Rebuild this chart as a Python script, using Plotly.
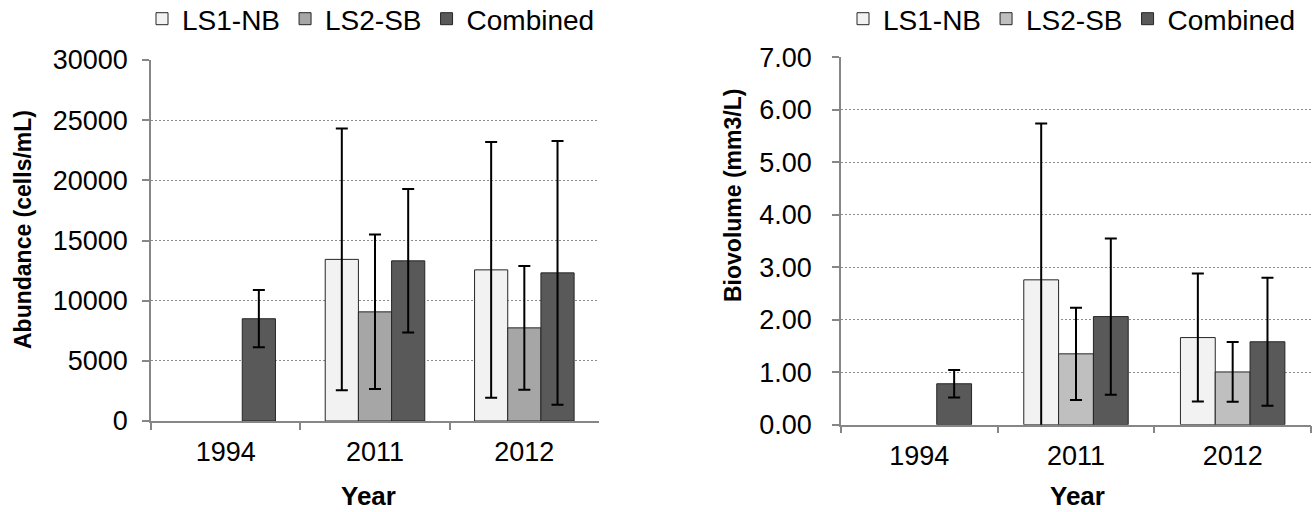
import plotly.graph_objects as go

years = ["1994", "2011", "2012"]
series_names = ["LS1-NB", "LS2-SB", "Combined"]

abund_ls1 = [None, 13430, 12560]
abund_ls1_err = [None, 10880, 10630]
abund_ls2 = [None, 9070, 7740]
abund_ls2_err = [None, 6420, 5140]
abund_comb = [8500, 13310, 12310]
abund_comb_err = [2380, 5960, 10950]

bio_ls1 = [None, 2.76, 1.66]
bio_ls1_err = [None, 2.98, 1.22]
bio_ls2 = [None, 1.35, 1.005]
bio_ls2_err = [None, 0.88, 0.57]
bio_comb = [0.78, 2.06, 1.58]
bio_comb_err = [0.26, 1.49, 1.22]

left_colors = ["#f2f2f2", "#a6a6a6", "#595959"]
right_colors = ["#f2f2f2", "#bfbfbf", "#595959"]

FONT = "Liberation Sans, Arial, sans-serif"
W, H = 1312, 512

fig = go.Figure()

left_vals = [(abund_ls1, abund_ls1_err), (abund_ls2, abund_ls2_err), (abund_comb, abund_comb_err)]
right_vals = [(bio_ls1, bio_ls1_err), (bio_ls2, bio_ls2_err), (bio_comb, bio_comb_err)]

for name, (v, e), c in zip(series_names, left_vals, left_colors):
    fig.add_trace(go.Bar(
        x=years, y=v, name=name, xaxis="x", yaxis="y", legend="legend",
        marker=dict(color=c, line=dict(color="#262626", width=1)),
        error_y=dict(type="data", array=e, visible=True, color="black", thickness=2, width=6),
    ))

for name, (v, e), c in zip(series_names, right_vals, right_colors):
    fig.add_trace(go.Bar(
        x=years, y=v, name=name, xaxis="x2", yaxis="y2", legend="legend2",
        marker=dict(color=c, line=dict(color="#262626", width=1)),
        error_y=dict(type="data", array=e, visible=True, color="black", thickness=2, width=6),
    ))

axis_col = "#868686"

def xax(domain, anchor):
    return dict(
        domain=domain, anchor=anchor, type="category",
        showline=True, linecolor=axis_col, linewidth=1.5,
        ticks="outside", tickson="boundaries", ticklen=7, tickcolor=axis_col, tickwidth=1.5,
        showgrid=False, tickfont=dict(size=27, color="black", family=FONT),
        ticklabelstandoff=6,
    )

def yax(domain, anchor, rng, dtick, fmt, standoff):
    return dict(
        domain=domain, anchor=anchor, range=rng, dtick=dtick, tickformat=fmt,
        showline=True, linecolor=axis_col, linewidth=1.5,
        ticks="outside", ticklen=7, tickcolor=axis_col, tickwidth=1.5,
        showgrid=True, gridcolor="#8c8c8c", griddash="2px,2px", gridwidth=1,
        zeroline=False, tickfont=dict(size=27, color="black", family=FONT),
        ticklabelstandoff=standoff,
    )

legend_common = dict(orientation="h", yanchor="top", y=1.0 + 6 / H,
                     font=dict(size=28, family=FONT, color="black"), itemwidth=30,
                     bgcolor="rgba(0,0,0,0)", traceorder="normal")

fig.update_layout(
    width=W, height=H,
    margin=dict(l=0, r=0, t=0, b=0, pad=0, autoexpand=False),
    paper_bgcolor="white", plot_bgcolor="white",
    font=dict(family=FONT, color="black"),
    barmode="group", bargap=1/3, bargroupgap=0,
    xaxis=xax([151 / W, 599 / W], "y"),
    yaxis=yax([1 - 421 / H, 1 - 60 / H], "x", [0, 30000], 5000, "d", 9),
    xaxis2=xax([841 / W, 1311 / W], "y2"),
    yaxis2=yax([1 - 424.7 / H, 1 - 57.3 / H], "x2", [0, 7], 1, ".2f", 15),
    legend=dict(x=142 / W, xanchor="left", **legend_common),
    legend2=dict(x=843 / W, xanchor="left", **legend_common),
    showlegend=True,
    annotations=[
        dict(text="<b>Year</b>", x=368 / W, y=1 - 496 / H, xref="paper", yref="paper",
             xanchor="center", yanchor="middle",
             showarrow=False, font=dict(size=26, family=FONT, color="black")),
        dict(text="<b>Year</b>", x=1077 / W, y=1 - 496 / H, xref="paper", yref="paper",
             xanchor="center", yanchor="middle",
             showarrow=False, font=dict(size=26, family=FONT, color="black")),
        dict(text="<b>Abundance (cells/mL)</b>", x=23 / W, y=1 - 230 / H, xref="paper", yref="paper",
             xanchor="center", yanchor="middle",
             showarrow=False, textangle=-90, font=dict(size=23, family=FONT, color="black")),
        dict(text="<b>Biovolume (mm3/L)</b>", x=733 / W, y=1 - 196 / H, xref="paper", yref="paper",
             xanchor="center", yanchor="middle",
             showarrow=False, textangle=-90, font=dict(size=23, family=FONT, color="black")),
    ],
)

fig.write_html(
    "out.html",
    config={"displayModeBar": False},
    post_script="document.body.style.margin='0px';document.body.style.overflow='hidden';",
)
